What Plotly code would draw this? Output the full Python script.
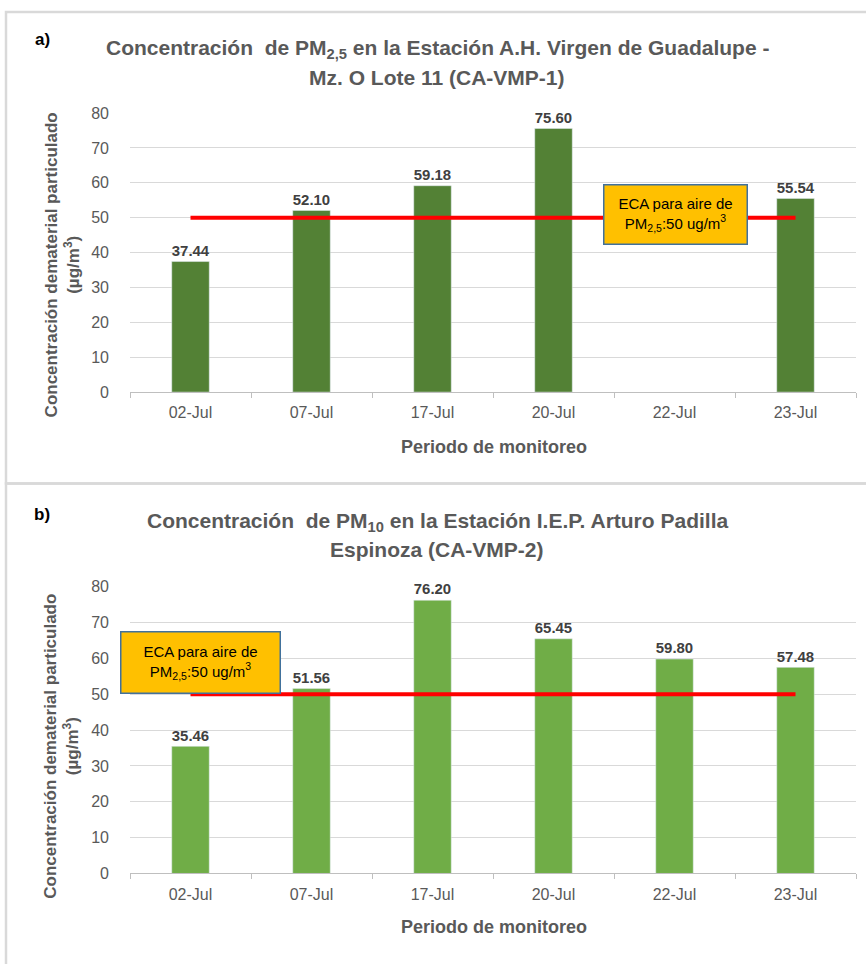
import plotly.graph_objects as go

# Monitoring dates and measured concentrations (µg/m³)
fechas = ["02-Jul", "07-Jul", "17-Jul", "20-Jul", "22-Jul", "23-Jul"]
pm25_vmp1 = [37.44, 52.10, 59.18, 75.60, None, 55.54]
pm10_vmp2 = [35.46, 51.56, 76.20, 65.45, 59.80, 57.48]
eca_limite = 50
y_ticks = [0, 10, 20, 30, 40, 50, 60, 70, 80]

W, H = 866, 964
FONT = "Liberation Sans"
GRAY = "#595959"


def px(x):
    return x / W


def py(y):
    return 1 - y / H


fig = go.Figure()

panels = [
    dict(vals=pm25_vmp1, color="#538135", xa="x", ya="y"),
    dict(vals=pm10_vmp2, color="#70AD47", xa="x2", ya="y2"),
]

for p in panels:
    fig.add_trace(go.Bar(
        x=fechas, y=p["vals"], marker_color=p["color"], width=0.31,
        texttemplate="%{y:.2f}",
        textposition="outside", cliponaxis=False,
        textfont=dict(family=FONT, size=16, color="#404040", weight="bold"),
        xaxis=p["xa"], yaxis=p["ya"], showlegend=False, hoverinfo="skip",
    ))
    fig.add_trace(go.Scatter(
        x=[fechas[0], fechas[-1]], y=[eca_limite, eca_limite], mode="lines",
        line=dict(color="#FF0000", width=4),
        xaxis=p["xa"], yaxis=p["ya"], showlegend=False, hoverinfo="skip",
    ))

axis_common = dict(
    type="category", categoryorder="array", categoryarray=fechas,
    showgrid=False, showline=True, linecolor="#BFBFBF", linewidth=1,
    ticks="outside", tickson="boundaries", ticklen=5, tickcolor="#BFBFBF",
    tickfont=dict(family=FONT, size=16, color=GRAY), ticklabelstandoff=6,
    fixedrange=True,
)
yaxis_common = dict(
    range=[0, 80], tickvals=y_ticks, showgrid=True, gridcolor="#D9D9D9",
    gridwidth=1, zeroline=False, showline=False,
    tickfont=dict(family=FONT, size=16, color=GRAY), ticklabelstandoff=20,
)

fig.update_layout(
    width=W, height=H, margin=dict(l=0, r=0, t=0, b=0),
    paper_bgcolor="white", plot_bgcolor="white", bargap=0.6,
    font=dict(family=FONT, size=16, color=GRAY),
    xaxis=dict(domain=[px(130), px(856)], anchor="y", **axis_common),
    yaxis=dict(domain=[py(391), py(107)], anchor="x", **yaxis_common),
    xaxis2=dict(domain=[px(130), px(856)], anchor="y2", **axis_common),
    yaxis2=dict(domain=[py(881), py(589)], anchor="x2", **yaxis_common),
)

# Panel frames
fig.add_shape(type="rect", xref="paper", yref="paper",
              x0=px(6), x1=px(880), y0=py(484), y1=py(4),
              line=dict(color="#D9D9D9", width=2.5), layer="below")
fig.add_shape(type="rect", xref="paper", yref="paper",
              x0=px(6), x1=px(880), y0=py(975), y1=py(484),
              line=dict(color="#D9D9D9", width=2.5), layer="below")

titles = [
    ("a)", "Concentración  de PM<sub>2,5</sub> en la Estación A.H. Virgen de Guadalupe -",
     "Mz. O Lote 11 (CA-VMP-1)", 32, 42, 71, 447, 262),
    ("b)", "Concentración  de PM<sub>10</sub> en la Estación I.E.P. Arturo Padilla",
     "Espinoza (CA-VMP-2)", 516, 523, 551, 936, 752),
]


def note(text, x, y, **kw):
    return dict(text=text, x=px(x), y=py(y), xref="paper", yref="paper",
                xanchor="center", yanchor="middle", showarrow=False, **kw)


annotations = []
for lbl, l1, l2, ly, t1, t2, xt, yt in titles:
    annotations.append(note(f"<b>{lbl}</b>", 42, ly, font=dict(family=FONT, size=17, color="black")))
    annotations.append(note(f"<b>{l1}</b>", 437, t1, font=dict(family=FONT, size=21, color=GRAY)))
    annotations.append(note(f"<b>{l2}</b>", 437, t2, font=dict(family=FONT, size=21, color=GRAY)))
    annotations.append(note("<b>Periodo de monitoreo</b>", 494, xt,
                            font=dict(family=FONT, size=18, color=GRAY)))
    annotations.append(note("<b>Concentración dematerial particulado<br>(µg/m<sup>3</sup>)</b>",
                            62, yt, textangle=-90, font=dict(family=FONT, size=17, color=GRAY)))

# ECA callout boxes
for cx, cy, w, h in [(675, 210, 144, 60), (200, 666, 160, 62)]:
    annotations.append(note(
        "ECA para aire de<br>PM<sub>2,5</sub>:50 ug/m<sup>3</sup>", cx, cy,
        width=w - 4, height=h - 4, bgcolor="#FFC000", bordercolor="#41719C", borderwidth=1.5,
        font=dict(family=FONT, size=15, color="black"), align="center", valign="middle",
    ))

fig.update_layout(annotations=annotations)
fig.write_html("out.html")
